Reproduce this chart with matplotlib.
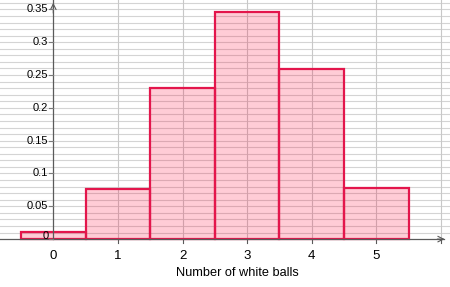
import matplotlib
matplotlib.use("Agg")
import matplotlib.pyplot as plt
import numpy as np

categories = [0, 1, 2, 3, 4, 5]
probabilities = [0.0102, 0.0768, 0.2304, 0.3456, 0.2592, 0.0778]
y_tick_labels = ["0", "0.05", "0.1", "0.15", "0.2", "0.25", "0.3", "0.35"]
y_tick_values = [0, 0.05, 0.1, 0.15, 0.2, 0.25, 0.3, 0.35]
x_label = "Number of white balls"

plt.rcParams['font.family'] = ['Liberation Sans', 'DejaVu Sans']

fig = plt.figure(figsize=(4.5, 2.87), dpi=100)
ax = fig.add_axes([0, 0, 1, 1])
xmin, xmax = -0.825, 6.14
ymin, ymax = -0.0730, 0.3643
ax.set_xlim(xmin, xmax)
ax.set_ylim(ymin, ymax)
ax.axis('off')

# grid (only in the upper half-plane)
for yv in np.arange(0.01, 0.365, 0.01):
    ax.plot([xmin, xmax], [yv, yv], color='#d4d4d4', lw=0.8, zorder=0)
for xv in range(1, 7):
    ax.plot([xv, xv], [0, ymax], color='#c8c8c8', lw=0.8, zorder=0)

# bars
ax.bar(categories, probabilities, width=1.0, color=(1.0, 0.0, 0.2, 0.2),
       edgecolor='#e3164c', linewidth=1.6, zorder=2)

# axes lines
ax.plot([xmin, 6.05], [0, 0], color='#5a5a5a', lw=0.9, zorder=3)
ax.plot([0, 0], [0, ymax], color='#5a5a5a', lw=0.9, zorder=3)
ax.annotate('', xy=(6.1, 0), xytext=(5.9, 0),
            arrowprops=dict(arrowstyle='->', color='#5a5a5a', lw=0.8), zorder=3)
ax.annotate('', xy=(0, 0.3643), xytext=(0, 0.34),
            arrowprops=dict(arrowstyle='->', color='#5a5a5a', lw=0.8), zorder=3)

# y tick marks and labels
for yv, lab in zip(y_tick_values, y_tick_labels):
    ax.plot([-0.07, 0], [yv, yv], color='#7a7a7a', lw=0.8, zorder=3)
    ax.text(-0.075, yv + (0.004 if yv == 0 else 0), lab, ha='right', va='center',
            fontsize=8, color='black', zorder=4)

# x tick marks and labels
for xv in categories:
    if xv != 0:
        ax.plot([xv, xv], [0, -0.006], color='#5a5a5a', lw=0.8, zorder=3)
    ax.text(xv, -0.026, str(xv), ha='center', va='center', fontsize=9.5,
            color='black', zorder=4)
ax.plot([6, 6], [0, -0.006], color='#5a5a5a', lw=0.8, zorder=3)

ax.text(2.85, -0.052, x_label, ha='center', va='center', fontsize=9.2,
        color='black', zorder=4)

fig.savefig('out.png', dpi=100)
